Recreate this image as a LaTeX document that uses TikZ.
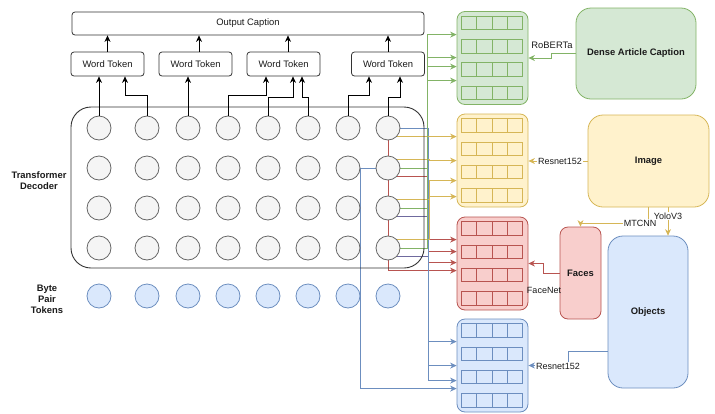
\documentclass[tikz,border=0pt]{standalone}
\usepackage{fontspec}
\setmainfont{Liberation Sans}
\usetikzlibrary{arrows.meta,backgrounds}

\definecolor{gS}{HTML}{82B366}\definecolor{gF}{HTML}{D5E8D4}
\definecolor{yS}{HTML}{D6B656}\definecolor{yF}{HTML}{FFF2CC}
\definecolor{rS}{HTML}{B85450}\definecolor{rF}{HTML}{F8CECC}
\definecolor{bS}{HTML}{6C8EBF}\definecolor{bF}{HTML}{DAE8FC}
\definecolor{kS}{HTML}{666666}\definecolor{kF}{HTML}{F5F5F5}
\definecolor{pS}{HTML}{6F6A9E}
\definecolor{ink}{HTML}{1A1A1A}
\definecolor{frame}{HTML}{333333}

\tikzset{
  txt/.style={font=\fontsize{9.4}{11}\selectfont, text=ink},
  btxt/.style={font=\fontsize{9.4}{11}\selectfont\bfseries, text=ink},
  elbl/.style={font=\fontsize{9}{11}\selectfont, text=ink, inner sep=1pt},
  tokbox/.style={txt, draw=frame, fill=white, rounded corners=3pt, line width=0.8pt,
                 minimum width=73pt, minimum height=24pt, inner sep=0pt},
  gcirc/.style={circle, draw=kS, fill=kF, minimum size=24pt, inner sep=0pt, line width=0.8pt},
  bcirc/.style={circle, draw=bS, fill=bF, minimum size=24pt, inner sep=0pt, line width=0.8pt},
  panel/.style={rounded corners=8pt, minimum width=71pt, minimum height=93pt, inner sep=0pt, line width=0.8pt},
  srcbox/.style={btxt, rounded corners=#1, inner sep=0pt, line width=0.8pt},
  tip/.style={-{Stealth[length=6.5pt,width=6pt]}},
  blk/.style={tip, draw=black, line width=0.8pt},
  gE/.style={tip, draw=gS, line width=0.8pt},
  yE/.style={tip, draw=yS, line width=0.8pt},
  rE/.style={tip, draw=rS, line width=0.8pt},
  bE/.style={tip, draw=bS, line width=0.8pt},
  pE/.style={draw=pS, line width=0.8pt},
}

\begin{document}
\begin{tikzpicture}[x=1pt,y=-1pt]
\useasboundingbox (0,0) rectangle (715,413);

% ---------------- transformer decoder ----------------
\node[draw=frame, line width=0.9pt, rounded corners=20pt, minimum width=353pt,
      minimum height=161pt, inner sep=0pt] (dec) at (247.5,187.5) {};
\node[btxt, align=center] (declbl) at (39,181) {Transformer\\Decoder};

\foreach \x [count=\c] in {99,147,188,228,268,308,348,388} {
  \foreach \y [count=\r] in {128,168,208,248} {
    \node[gcirc] (c\r\c) at (\x,\y) {};
  }
  \node[bcirc] (b\c) at (\x,296) {};
}
\node[btxt, align=center] (bptlbl) at (47,299) {Byte\\Pair\\Tokens};

% ---------------- output side ----------------
\node[tokbox, minimum width=352pt, minimum height=23pt] (oc) at (248,23.5) {Output Caption};
\node[tokbox] (w1) at (107.5,64) {Word Token};
\node[tokbox] (w2) at (195.5,64) {Word Token};
\node[tokbox] (w3) at (283.5,64) {Word Token};
\node[tokbox] (w4) at (388,64) {Word Token};

\draw[blk] (w1.north) -- (w1.north |- oc.south);
\draw[blk] ([xshift=3.5pt]w2.north) -- ([xshift=3.5pt]w2.north |- oc.south);
\draw[blk] ([xshift=4.5pt]w3.north) -- ([xshift=4.5pt]w3.north |- oc.south);
\draw[blk] (w4.north) -- (w4.north |- oc.south);

\draw[blk] (c11.north) -- (c11.north |- w1.south);
\draw[blk] (c12.north) -- ++(0,-20) -| ([xshift=17.5pt]w1.south);
\draw[blk] (c13.north) -- (c13.north |- w2.south);
\draw[blk] (c14.north) -- ++(0,-20) -| ([xshift=-17.5pt]w3.south);
\draw[blk] (c15.north) -- ++(0,-18) -| ([xshift=9.5pt]w3.south);
\draw[blk] (c16.north) -- ++(0,-18) -| ([xshift=18.5pt]w3.south);
\draw[blk] (c17.north) -- ++(0,-20) -| ([xshift=-19pt]w4.south);
\draw[blk] (c18.north) -- ++(0,-18) -| ([xshift=12pt]w4.south);

% ---------------- feature panels ----------------
\foreach \nm/\top/\s/\f in {pG/11.5/gS/gF, pY/114/yS/yF, pR/217/rS/rF, pB/319/bS/bF} {
  \node[panel, draw=\s, fill=\f] (\nm) at (492.5,\top+46.5) {};
  \foreach \i in {0,...,3}
    \foreach \j in {0,...,3}
      \draw[draw=\s, fill=\f, line width=0.8pt]
        ([shift={(5+15.25*\j,5+23.3*\i)}]\nm.north west) rectangle ++(15.25,13.5);
}

% ---------------- decoder to panels ----------------
\begin{scope}[on background layer]
  % red
  \draw[rE] (c18.center) |- ([shift={(0,54)}]pR.north west);
  \draw[rE] ([yshift=-8pt]c28.center) -- ++(40,0) |- ([shift={(0,23)}]pR.north west);
  \draw[rE] ([yshift=-8pt]c38.center) -- ++(40,0) |- ([shift={(0,35)}]pR.north west);
  \draw[rE] ([yshift=-8pt]c48.center) -- ++(40,0) |- ([shift={(0,46)}]pR.north west);
  % green (first branch)
  \draw[gE] (c18.center) -- ++(39.5,0) |- ([shift={(0,23.5)}]pG.north west);
  % blue
  \draw[bE] (c18.center) -- ++(40,0) |- ([shift={(0,23)}]pB.north west);
  \draw[bE] (c28.center) -- ++(-28,0) |- ([shift={(0,70)}]pB.north west);
  \draw[bE] ([yshift=-8pt]c38.center) -- ++(40,0) |- ([shift={(0,47)}]pB.north west);
  \draw[bE] ([yshift=-8pt]c48.center) -- ++(40,0) |- ([shift={(0,62)}]pB.north west);
  \draw[pE] ([yshift=-8pt]c38.center) -- ++(40,0);
  \draw[pE] ([yshift=-8pt]c48.center) -- ++(40,0);
  % yellow
  \draw[yE] ([yshift=-8pt]c18.center) -- ++(41,0) |- ([shift={(0,23)}]pY.north west);
  \draw[yE] ([yshift=9pt]c28.center) -- ++(41,0) |- ([shift={(0,47)}]pY.north west);
  \draw[yE] ([yshift=9pt]c38.center) -- ++(41,0) |- ([shift={(0,67)}]pY.north west);
  \draw[yE] ([yshift=9pt]c48.center) -- ++(41,0) |- ([shift={(0,83)}]pY.north west);
  % green
  \draw[gE] (c28.center) -- ++(39.5,0) |- ([shift={(0,46.5)}]pG.north west);
  \draw[gE] (c38.center) -- ++(39.5,0) |- ([shift={(0,55.5)}]pG.north west);
  \draw[gE] (c48.center) -- ++(39.5,0) |- ([shift={(0,69.5)}]pG.north west);
\end{scope}

% ---------------- sources ----------------
\node[srcbox=15pt, draw=gS, fill=gF, minimum width=120pt, minimum height=91pt] (dac) at (636,53.5) {Dense Article Caption};
\node[srcbox=15pt, draw=yS, fill=yF, minimum width=121pt, minimum height=92pt] (img) at (648.5,161) {Image};
\node[srcbox=8pt, draw=rS, fill=rF, minimum width=41pt, minimum height=92pt] (faces) at (580.5,273) {Faces};
\node[srcbox=15pt, draw=bS, fill=bF, minimum width=80pt, minimum height=152pt] (obj) at (648,312) {Objects};

\draw[gE] (dac.west) -- ++(-24,0) |- (pG.east);
\node[elbl, font=\fontsize{9.4}{11}\selectfont] (robl) at (552,45.5) {RoBERTa};

\draw[yE] (img.west) -- (img.west -| pY.east);
\node[elbl, fill=white] (rn1) at (560,161) {Resnet152};

\draw[yE] ([xshift=-0.5pt]img.south) -- ++(0,16) -| (faces.north);
\draw[yE] ([xshift=19.5pt]img.south) -- ([xshift=19.5pt]img.south |- obj.north);
\node[elbl, fill=white] (mtc) at (640,223) {MTCNN};
\node[elbl, fill=white] (yolo) at (668,216) {YoloV3};

\draw[rE] (faces.west) -- ++(-16,0) |- (pR.east);
\node[elbl] (fnet) at (544,290) {FaceNet};

\draw[bE] ([yshift=-39pt]obj.west) -- ++(-39,0) |- (pB.east);
\node[elbl, fill=white] (rn2) at (558,366) {Resnet152};
\end{tikzpicture}
\end{document}
